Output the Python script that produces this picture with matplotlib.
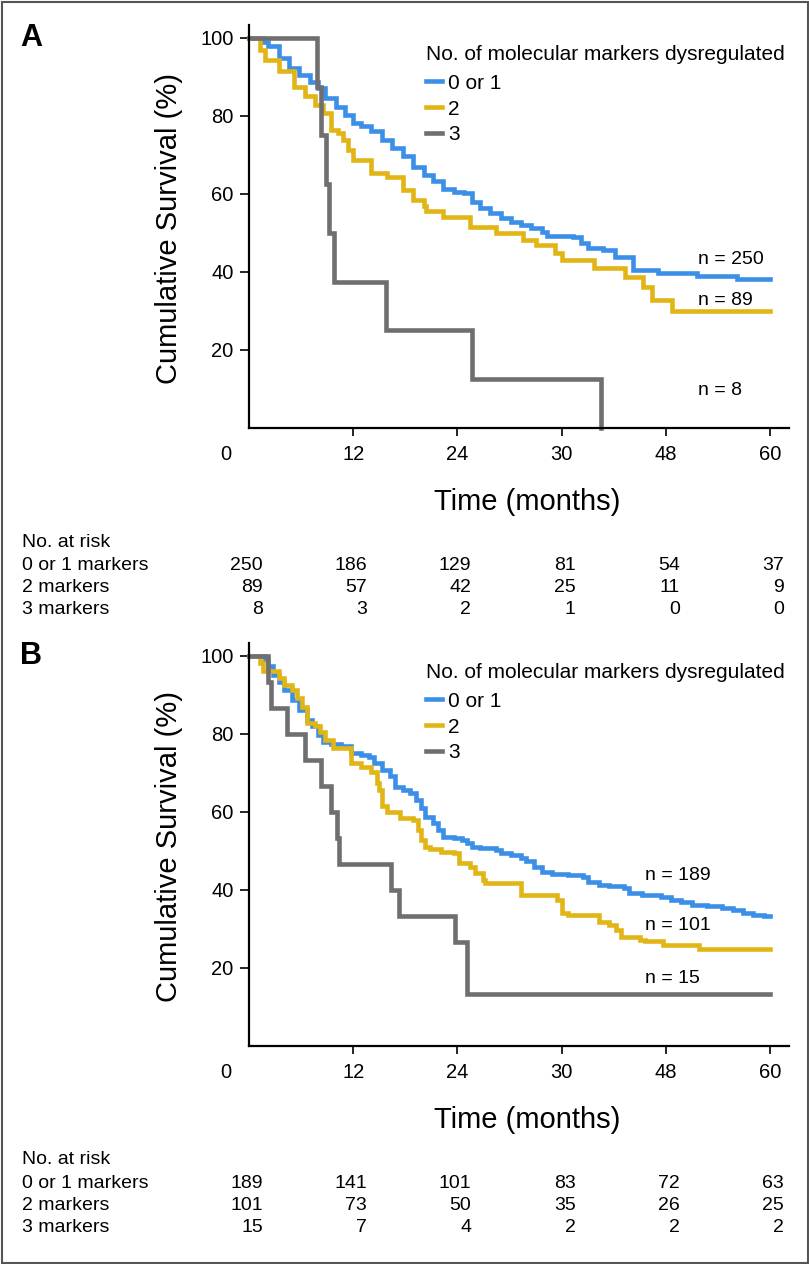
import matplotlib
matplotlib.use("Agg")
import matplotlib.pyplot as plt
from matplotlib import transforms as mtransforms
from matplotlib.patches import Rectangle

plt.rcParams['font.family'] = ['Liberation Sans', 'DejaVu Sans']

# ---------------- data ----------------
groups = ["0 or 1", "2", "3"]
risk_times = [0, 12, 24, 36, 48, 60]
xtick_labels = ["0", "12", "24", "30", "48", "60"]
risk_rows = ["0 or 1 markers", "2 markers", "3 markers"]

# Panel A
a_t_01 = [0, 1.6, 2.2, 3.4, 4.6, 5.8, 7.0, 7.9, 8.8, 10.0, 11.1, 12.0, 12.9, 14.1, 15.3,
          16.5, 17.7, 18.9, 20.1, 21.2, 22.4, 23.6, 24.8, 25.7, 26.6, 27.8, 29.0, 30.2,
          31.3, 32.5, 33.7, 34.3, 37.3, 38.2, 39.1, 40.8, 42.2, 44.2, 47.1, 51.6, 56.2]
a_s_01 = [100, 99.0, 97.9, 94.8, 92.2, 90.5, 88.8, 87.1, 84.5, 82.4, 80.3, 78.1, 77.3, 76.2, 73.8,
          71.7, 69.6, 67.0, 64.9, 63.2, 61.3, 60.6, 60.2, 58.0, 56.3, 55.0, 53.8, 52.9,
          52.1, 51.2, 50.3, 49.2, 48.9, 47.4, 46.1, 45.5, 43.8, 40.5, 39.7, 39.0, 38.2]
a_t_2 = [0, 1.3, 1.9, 3.4, 5.2, 6.4, 7.6, 8.5, 9.4, 10.2, 10.8, 11.4, 12.0, 14.1, 15.9,
         17.7, 18.9, 20.1, 20.4, 22.4, 25.4, 28.4, 31.6, 33.1, 35.2, 36.1, 39.7, 43.3,
         45.4, 46.4, 48.7]
a_s_2 = [100, 97.0, 94.4, 91.4, 87.5, 85.0, 82.8, 80.7, 76.4, 75.6, 73.8, 71.3, 68.7, 65.3, 64.4,
         61.0, 58.5, 56.8, 55.5, 54.2, 51.6, 49.9, 48.2, 46.9, 44.8, 43.1, 41.0, 38.7,
         36.2, 32.8, 30.0]
a_t_3 = [0, 7.8, 8.3, 8.9, 9.2, 9.8, 15.8, 25.7, 40.5]
a_s_3 = [100, 87.5, 75.0, 62.5, 50.0, 37.5, 25.0, 12.5, 0.0]
a_n = ["n = 250", "n = 89", "n = 8"]
a_risk_01 = [250, 186, 129, 81, 54, 37]
a_risk_2 = [89, 57, 42, 25, 11, 9]
a_risk_3 = [8, 3, 2, 1, 0, 0]

# Panel B
b_t_01 = [0, 1.9, 2.2, 2.8, 3.4, 4.0, 4.9, 5.8, 6.7, 7.3, 7.9, 8.5, 9.4, 10.6, 11.7, 12.9,
          13.8, 14.4, 15.3, 16.2, 16.8, 17.7, 18.6, 19.2, 19.8, 20.3, 21.2, 21.8, 22.4,
          23.6, 24.5, 25.1, 25.7, 26.6, 28.4, 29.0, 30.2, 31.3, 31.9, 32.8, 33.7, 34.9,
          36.7, 38.5, 39.1, 40.3, 41.5, 43.2, 43.8, 45.3, 47.4, 48.6, 49.8, 51.0, 52.7,
          54.5, 55.7, 56.9, 58.1, 59.3]
b_s_01 = [100, 99.0, 97.3, 95.1, 93.4, 91.3, 88.7, 86.2, 83.6, 81.9, 79.7, 78.0, 77.5, 76.9, 75.0, 74.6,
          74.2, 72.5, 70.8, 69.1, 66.5, 65.6, 64.8, 63.1, 60.9, 58.8, 57.1, 55.4, 53.7,
          53.2, 52.8, 52.0, 51.1, 50.7, 50.3, 49.4, 49.0, 48.1, 47.3, 46.0, 44.7, 44.1,
          43.8, 43.4, 42.1, 41.3, 40.9, 40.4, 39.1, 38.7, 38.3, 37.4, 36.8, 36.2, 35.9,
          35.3, 34.9, 34.2, 33.6, 33.2]
b_t_2 = [0, 1.3, 1.6, 3.4, 4.0, 4.9, 5.5, 6.1, 6.7, 7.6, 8.2, 8.8, 9.7, 11.7, 12.9, 14.1,
         14.7, 15.0, 15.3, 15.9, 17.4, 18.9, 19.5, 19.8, 20.3, 20.9, 22.1, 23.6, 24.2,
         25.4, 26.0, 26.9, 27.2, 31.3, 35.5, 36.1, 36.7, 40.3, 41.5, 42.3, 42.9, 45.0,
         45.6, 47.7, 51.8]
b_s_2 = [100, 98.1, 96.0, 94.3, 92.6, 91.3, 89.1, 87.0, 82.7, 81.9, 80.6, 78.5, 76.3, 72.5, 71.6, 70.3,
         67.4, 65.6, 61.4, 60.1, 58.4, 57.9, 55.4, 52.8, 51.1, 50.4, 49.8, 49.4, 46.8,
         46.0, 44.3, 42.6, 41.7, 38.7, 37.4, 34.0, 33.6, 31.9, 31.0, 29.7, 27.9, 27.2,
         26.8, 25.9, 24.8]
b_t_3 = [0, 2.2, 2.5, 4.4, 6.5, 8.3, 9.5, 10.1, 10.4, 16.3, 17.3, 23.7, 25.1]
b_s_3 = [100, 93.3, 86.7, 80.0, 73.3, 66.7, 60.0, 53.3, 46.7, 40.0, 33.3, 26.7, 13.3]
b_n = ["n = 189", "n = 101", "n = 15"]
b_risk_01 = [189, 141, 101, 83, 72, 63]
b_risk_2 = [101, 73, 50, 35, 26, 25]
b_risk_3 = [15, 7, 4, 2, 2, 2]

colors = ['#3b8fe6', '#e1b516', '#6f6f6f']

panels = [
    dict(letter='A', off=0,
         curves=[(a_t_01, a_s_01), (a_t_2, a_s_2), (a_t_3, a_s_3)],
         nlabels=a_n, nx=51.7, ny=[43.3, 32.8, 9.7],
         risk=[a_risk_01, a_risk_2, a_risk_3]),
    dict(letter='B', off=618,
         curves=[(b_t_01, b_s_01), (b_t_2, b_s_2), (b_t_3, b_s_3)],
         nlabels=b_n, nx=45.6, ny=[43.8, 30.8, 17.4],
         risk=[b_risk_01, b_risk_2, b_risk_3]),
]

# ---------------- figure ----------------
W, H = 809, 1264
fig = plt.figure(figsize=(W / 100, H / 100), dpi=100)


def fx(px):
    return px / W


def fy(py):
    return 1 - py / H


for p in panels:
    off = p['off']
    ax = fig.add_axes([fx(249), fy(428 + off), (789 - 249) / W, 403 / H])
    handles = []
    for (t, s), c, g in zip(p['curves'], colors, groups):
        tt = list(t)
        ss = list(s)
        if ss[-1] > 0:
            tt.append(60)
            ss.append(ss[-1])
        ln, = ax.step(tt, ss, where='post', color=c, lw=3.3, label=g,
                      solid_joinstyle='miter', clip_on=False, zorder=3)
        handles.append(ln)

    ax.set_xlim(0, 62.2)
    ax.set_ylim(0, 103.3)
    for side in ['top', 'right']:
        ax.spines[side].set_visible(False)
    for side in ['left', 'bottom']:
        ax.spines[side].set_linewidth(1.6)
        ax.spines[side].set_zorder(4)

    ax.set_xticks(risk_times)
    ax.set_xticklabels(xtick_labels)
    ax.set_yticks([20, 40, 60, 80, 100])
    ax.tick_params(axis='x', length=5.5, width=1.2, pad=6.5, labelsize=14.5)
    ax.tick_params(axis='y', length=6.5, width=1.2, pad=4.5, labelsize=14.5)
    first = ax.xaxis.get_major_ticks()[0]
    first.tick1line.set_visible(False)
    lab0 = ax.get_xticklabels()[0]
    lab0.set_transform(lab0.get_transform() +
                       mtransforms.ScaledTranslation(-23 / 100, 0, fig.dpi_scale_trans))

    leg = ax.legend(handles, groups, title='No. of molecular markers dysregulated',
                    loc='upper left', bbox_to_anchor=(fx(426), fy(45 + off)),
                    bbox_transform=fig.transFigure, frameon=False, fontsize=15,
                    title_fontsize=15, handlelength=0.75, handletextpad=0.3,
                    labelspacing=0.33, borderpad=0, borderaxespad=0, alignment='left')
    leg._legend_box.sep = 7

    for lbl, yv in zip(p['nlabels'], p['ny']):
        ax.text(p['nx'], yv, lbl, fontsize=14, ha='left', va='center')

    fig.text(fx(20), fy(38 + off), p['letter'], fontsize=22, fontweight='bold',
             ha='left', va='center')
    fig.text(fx(169), fy(228 + off), 'Cumulative Survival (%)', rotation=90,
             fontsize=21, ha='center', va='center')
    fig.text(fx(527), fy(502 + off), 'Time (months)', fontsize=21,
             ha='center', va='center')

    fig.text(fx(22), fy(542 + off), 'No. at risk', fontsize=14, ha='left', va='center')
    row_y = [565, 588, 610]
    trans = mtransforms.blended_transform_factory(ax.transData, fig.transFigure)
    trans = mtransforms.offset_copy(trans, fig=fig, x=14, y=0, units='dots')
    for rname, ry, vals in zip(risk_rows, row_y, p['risk']):
        fig.text(fx(22), fy(ry + off), rname, fontsize=14, ha='left', va='center')
        for t, v in zip(risk_times, vals):
            ax.text(t, fy(ry + off), str(v), transform=trans, ha='right', va='center',
                    fontsize=14, clip_on=False)

fig.add_artist(Rectangle((1.5 / W, 1.5 / H), (W - 3) / W, (H - 3) / H,
                         transform=fig.transFigure, fill=False, ec='#555555', lw=1.5))

fig.savefig('out.png', dpi=100)
